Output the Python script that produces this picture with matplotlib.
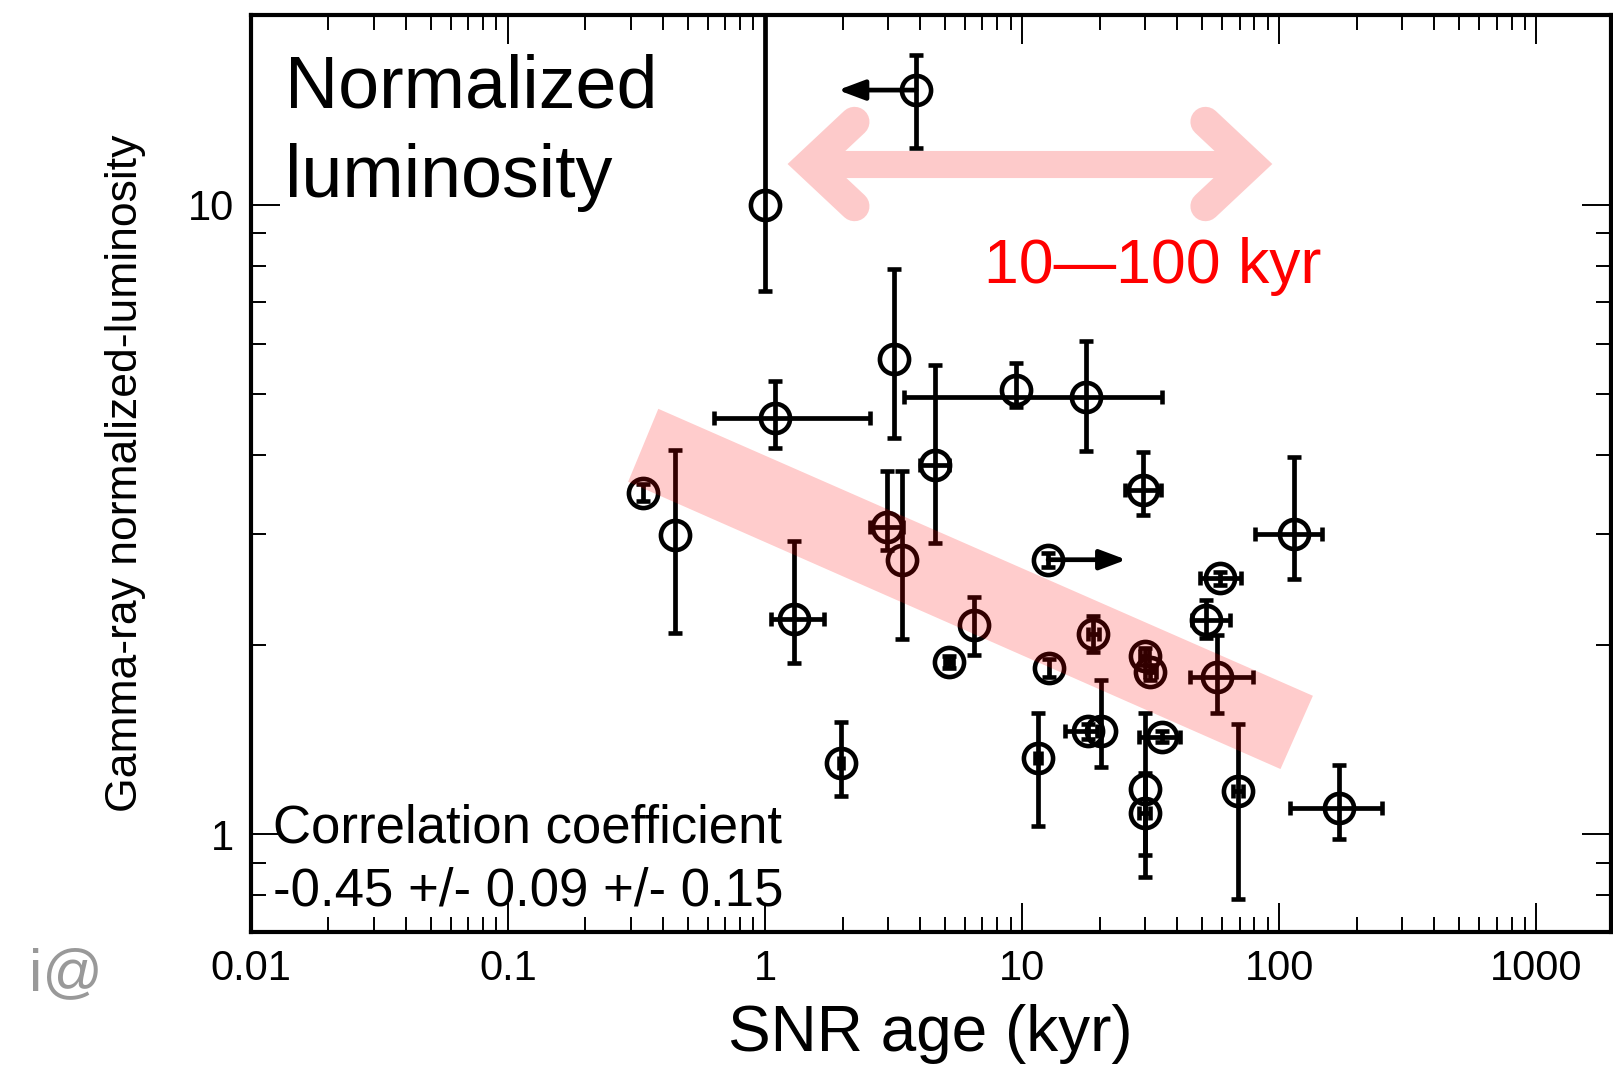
import numpy as np
import matplotlib
matplotlib.use("Agg")
import matplotlib.pyplot as plt
from matplotlib.patches import Polygon
from matplotlib.ticker import LogLocator, FuncFormatter, NullFormatter

plt.rcParams['font.family'] = ['Liberation Sans', 'DejaVu Sans']

# SNR age (kyr), normalized luminosity and the ends of their error bars (None = no bar)
age    = [1.0, 3.86, 1.09, 3.16, 9.48, 17.7, 4.56, 0.336, 0.447, 29.6, 2.99, 3.40, 12.6, 114, 58.9, 1.29, 6.47,
          51.9, 18.9, 5.20, 12.7, 29.9, 31.5, 57.3, 18.0, 20.2, 35.0, 1.97, 11.5, 29.9, 29.9, 68.9, 170]
lum    = [10.0, 15.2, 4.58, 5.68, 5.08, 4.95, 3.86, 3.49, 2.99, 3.52, 3.08, 2.73, 2.73, 3.00, 2.55, 2.20, 2.15,
          2.19, 2.08, 1.88, 1.84, 1.92, 1.81, 1.78, 1.46, 1.46, 1.43, 1.30, 1.32, 1.18, 1.08, 1.17, 1.10]
age_lo = [None, None, 0.63, None, None, 3.48, 4.0, None, None, 25.2, 2.56, None, None, 80.7, 48.9, 1.05, None,
          45.7, 18.0, 5.0, None, 28.8, 30.0, 45.1, 14.7, None, 28.5, 1.93, 11.2, None, 28.5, 66.0, 110]
age_hi = [None, None, 2.55, None, None, 34.9, 5.2, None, None, 34.7, 3.45, None, None, 147, 71.0, 1.69, None,
          64.4, 19.8, 5.4, None, 31.0, 33.0, 79.0, 19.5, None, 41.2, 2.01, 11.8, None, 31.5, 72.0, 251]
lum_lo = [7.28, 12.3, 4.10, 4.26, 4.78, 4.06, 2.90, 3.38, 2.09, 3.21, 2.83, 2.04, 2.66, 2.54, 2.49, 1.87, 1.93,
          2.05, 1.95, 1.84, 1.78, 1.86, 1.76, 1.56, 1.42, 1.28, 1.40, 1.15, 1.03, 0.927, 0.855, 0.79, 0.984]
lum_hi = [30.0, 17.3, 5.24, 7.89, 5.60, 6.08, 5.57, 3.60, 4.07, 4.05, 3.77, 3.77, 2.80, 3.97, 2.61, 2.92, 2.38,
          2.36, 2.22, 1.92, 1.90, 1.98, 1.86, 2.07, 1.50, 1.76, 1.46, 1.51, 1.56, 1.56, 1.25, 1.50, 1.29]

# age limits drawn as arrows
limit_idx = [1, 12]
limit_to = [1.92, 25.4]

# trend band corners (age, lum)
band_age = [0.384, 135, 101, 0.293]
band_lum = [4.74, 1.66, 1.27, 3.63]

# 10-100 kyr range arrow
arrow_lo, arrow_hi, arrow_y = 1.22, 94.0, 11.6

fig = plt.figure(figsize=(16.13, 10.65), dpi=100)
ax = fig.add_axes([0.1556, 0.1249, 0.8432, 0.8610])
ax.set_xscale('log')
ax.set_yscale('log')
ax.set_xlim(0.01, 1950)
ax.set_ylim(0.7, 20)

for i in range(len(age)):
    xe = None
    if age_lo[i] is not None:
        xe = [[age[i] - age_lo[i]], [age_hi[i] - age[i]]]
    ye = [[lum[i] - lum_lo[i]], [lum_hi[i] - lum[i]]]
    ax.errorbar([age[i]], [lum[i]], xerr=xe, yerr=ye, fmt='o', mfc='none', mec='k', ms=21, mew=3.3,
                ecolor='k', elinewidth=3.4, capsize=5.2, capthick=3.4, zorder=3)

for i, x_to in zip(limit_idx, limit_to):
    ax.annotate('', xy=(x_to, lum[i]), xytext=(age[i], lum[i]),
                arrowprops=dict(arrowstyle='-|>,head_length=0.8,head_width=0.3', mutation_scale=20,
                                lw=3.4, color='k', shrinkA=0, shrinkB=0), zorder=3)

ax.add_patch(Polygon(list(zip(band_age, band_lum)), closed=True, facecolor='red', alpha=0.2,
                     edgecolor='none', zorder=5))

# pink double arrow (log-space geometry)
pink = '#fdcaca'
l0, l1, ly = np.log10(arrow_lo), np.log10(arrow_hi), np.log10(arrow_y)
tip_in, arm_len, arm_dy = 0.086, 0.175, 0.067
ax.plot([10 ** (l0 + tip_in), 10 ** (l1 - tip_in)], [arrow_y, arrow_y], color=pink, lw=19.5,
        solid_capstyle='butt', zorder=2)
for v, s in [(l0 + tip_in, 1), (l1 - tip_in, -1)]:
    ax.plot([10 ** (v + s * arm_len), 10 ** v, 10 ** (v + s * arm_len)],
            [10 ** (ly + arm_dy), arrow_y, 10 ** (ly - arm_dy)], color=pink, lw=21.6,
            solid_capstyle='round', solid_joinstyle='miter', zorder=2)

for s in ax.spines.values():
    s.set_linewidth(3.0)
ax.xaxis.set_major_locator(LogLocator(base=10, numticks=12))
ax.xaxis.set_minor_locator(LogLocator(base=10, subs=np.arange(2, 10), numticks=12))
ax.yaxis.set_major_locator(LogLocator(base=10, numticks=12))
ax.yaxis.set_minor_locator(LogLocator(base=10, subs=np.arange(2, 10), numticks=12))
fmt = FuncFormatter(lambda v, p: '%g' % v)
ax.xaxis.set_major_formatter(fmt)
ax.yaxis.set_major_formatter(fmt)
ax.xaxis.set_minor_formatter(NullFormatter())
ax.yaxis.set_minor_formatter(NullFormatter())
ax.tick_params(which='both', direction='in', top=True, right=True, width=1.4, labelsize=30, pad=12)
ax.tick_params(which='major', length=21)
ax.tick_params(which='minor', length=11)

fig.text(0.1767, 0.8986, 'Normalized', fontsize=53, va='baseline')
fig.text(0.1767, 0.8150, 'luminosity', fontsize=53, va='baseline')
fig.text(0.610, 0.734, '10\u2014100 kyr', fontsize=45, color='red', va='baseline')
fig.text(0.169, 0.2085, 'Correlation coefficient', fontsize=38, va='baseline')
fig.text(0.169, 0.150, '-0.45 +/- 0.09 +/- 0.15', fontsize=38, va='baseline')
fig.text(0.0775, 0.556, 'Gamma-ray normalized-luminosity', fontsize=32, rotation=90, ha='center', va='center')
fig.text(0.577, 0.013, 'SNR age (kyr)', fontsize=46, ha='center', va='baseline')
fig.text(0.018, 0.07, 'i@', fontsize=43, color='#999999', va='baseline')

fig.savefig('out.png', dpi=100)
